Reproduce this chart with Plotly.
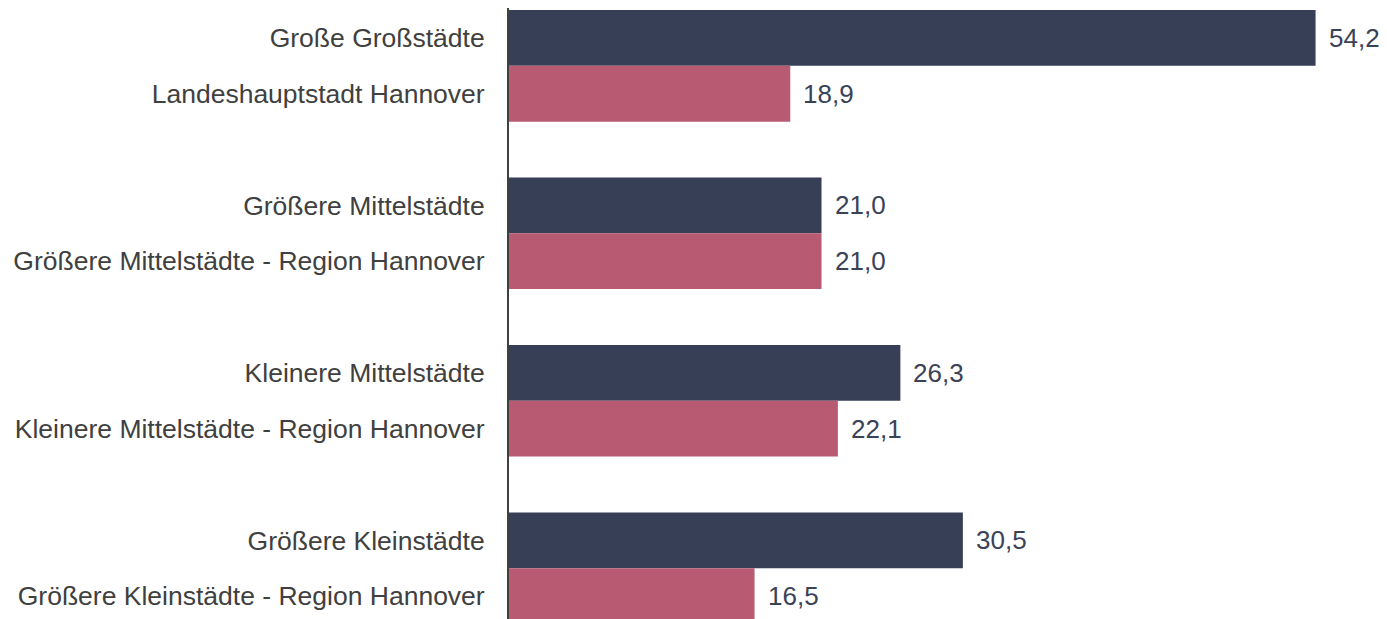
import plotly.graph_objects as go

groups = ["Große Großstädte", "Größere Mittelstädte", "Kleinere Mittelstädte", "Größere Kleinstädte"]
regional = ["Landeshauptstadt Hannover", "Größere Mittelstädte - Region Hannover",
            "Kleinere Mittelstädte - Region Hannover", "Größere Kleinstädte - Region Hannover"]
values_national = [54.2, 21.0, 26.3, 30.5]
values_region = [18.9, 21.0, 22.1, 16.5]

dark = "#373f56"
pink = "#b95a73"
FONT = "Liberation Sans, Arial"

pos_nat = [g * 3 for g in range(len(groups))]
pos_reg = [g * 3 + 1 for g in range(len(groups))]

fig = go.Figure()
fig.add_trace(go.Bar(y=pos_nat, x=values_national, orientation="h", width=1,
                     marker=dict(color=dark, line=dict(width=0)), showlegend=False))
fig.add_trace(go.Bar(y=pos_reg, x=values_region, orientation="h", width=1,
                     marker=dict(color=pink, line=dict(width=0)), showlegend=False))

def fmt(v):
    return f"{v:.1f}".replace(".", ",")

for ys, xs in ((pos_nat, values_national), (pos_reg, values_region)):
    for y, x in zip(ys, xs):
        fig.add_annotation(x=x, y=y, text=fmt(x), showarrow=False, xanchor="left",
                           yanchor="middle", xshift=11,
                           font=dict(family=FONT, size=26, color="#3a4257"))

tickvals = pos_nat + pos_reg
ticktext = groups + regional

fig.update_layout(
    width=1379, height=611,
    margin=dict(l=501, r=0, t=0, b=0, autoexpand=False),
    paper_bgcolor="white", plot_bgcolor="white",
    barmode="overlay",
    font=dict(family=FONT, size=26, color="#404040"),
    xaxis=dict(range=[0, 59.0], showgrid=False, zeroline=False, showticklabels=False,
               showline=False, ticks="", automargin=False),
    yaxis=dict(range=[10.41, -0.536], tickvals=tickvals, ticktext=ticktext, automargin=False,
               showgrid=False, zeroline=False, showline=True, linecolor="#404040", linewidth=2,
               ticks="outside", ticklen=17, tickcolor="rgba(0,0,0,0)",
               tickfont=dict(family=FONT, size=26.5, color="#404040")),
)

fig.write_html("out.html")
